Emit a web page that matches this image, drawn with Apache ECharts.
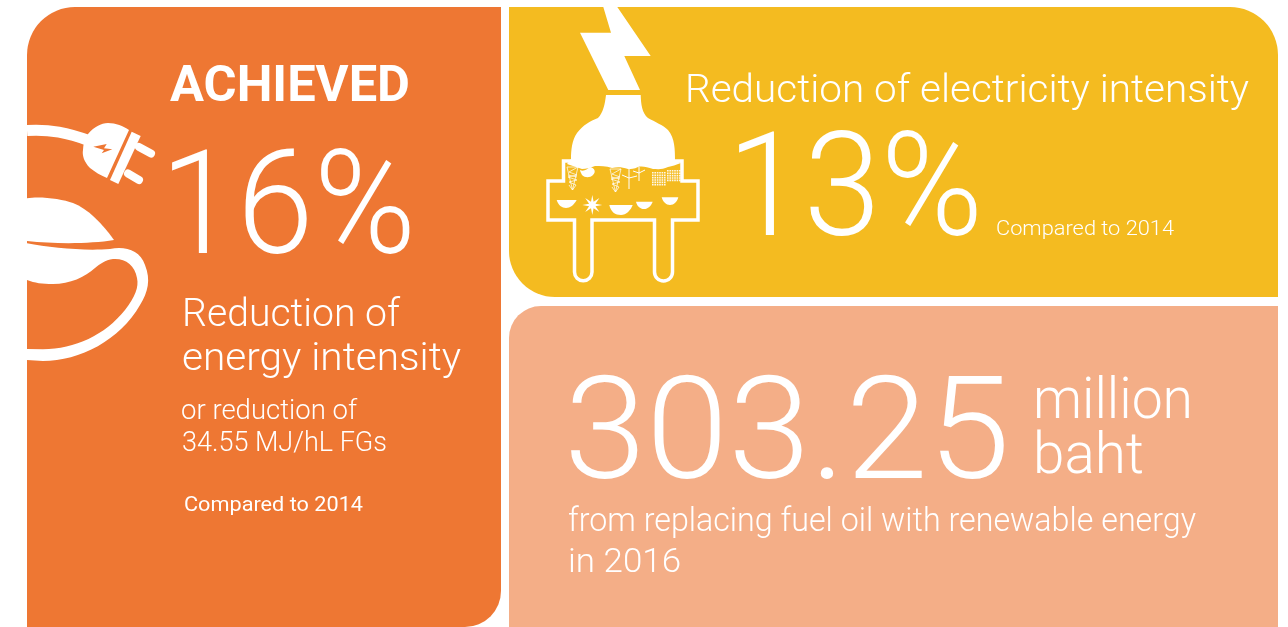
<!DOCTYPE html>
<html>
<head>
<meta charset="utf-8">
<title>Energy reduction</title>
<style>
  html, body { margin: 0; padding: 0; background: #fff; }
  #chart { width: 1288px; height: 627px; }
</style>
<script src="https://cdn.jsdelivr.net/npm/echarts@6/dist/echarts.min.js"></script>
</head>
<body>
<div id="chart"></div>
<script>
// text
const leftTexts = ['ACHIEVED', '16%', 'Reduction of', 'energy intensity', 'or reduction of', '34.55 MJ/hL FGs', 'Compared to 2014'];
const topRightTexts = ['Reduction of electricity intensity', '13%', 'Compared to 2014'];
const lowerRightTexts = ['303.25', 'million', 'baht', 'from replacing fuel oil with renewable energy', 'in 2016'];

const ORANGE = '#ee7733';
const YELLOW = '#f4bb20';
const PEACH = '#f4ae87';
const WHITE = '#ffffff';
const FONT = 'Roboto';

const measure = document.createElement('canvas').getContext('2d');

// text stretched to the width it has in the reference, y is the baseline
function label(text, x, y, size, width, weight) {
  const font = `${weight || 300} ${size}px ${FONT}`;
  measure.font = font;
  measure.textBaseline = 'middle';
  const m = measure.measureText(text);
  const toBaseline = measure.measureText('H').actualBoundingBoxDescent;
  return {
    type: 'text',
    x: x,
    y: y - toBaseline,
    scaleX: width / m.width,
    style: {
      text: text,
      x: 0,
      y: 0,
      font: font,
      fill: WHITE,
      align: 'left',
      verticalAlign: 'middle'
    }
  };
}

function fillPath(pathData, fill, opacity) {
  return {
    type: 'path',
    shape: { pathData: pathData },
    style: { fill: fill || WHITE, opacity: opacity || 1 }
  };
}

function strokePath(pathData, lineWidth, cap, opacity) {
  return {
    type: 'path',
    shape: { pathData: pathData },
    style: { fill: 'none', stroke: WHITE, lineWidth: lineWidth, lineCap: cap || 'butt', lineJoin: 'miter', opacity: opacity || 1 }
  };
}

function panel(x, y, w, h, r, fill) {
  return { type: 'rect', shape: { x: x, y: y, width: w, height: h, r: r }, style: { fill: fill } };
}

// left plug and cord
const plugIcon = [
  strokePath('M27 130.5 C50 129 68 133 90 141', 11),
  fillPath('M88 134 C94 127 101 123 108 123 C116 123 123 126 129 130 L107 178 C100 175 95 172 90 168 C84 162 82 155 83 150 C83 144 85 139 88 134 Z'),
  fillPath('M131.7 131.7 L140.7 136 L118.3 184 L110 180 Z'),
  strokePath('M139 147 L151 153.5', 8, 'round'),
  strokePath('M128 173.5 L139 180', 8, 'round'),
  fillPath('M93.3 146.7 L106.7 144 L104 148.3 L112.3 149.3 L101.7 153.3 L104 150 Z', ORANGE),
  fillPath('M27 198.3 C40 196 62 199 73 203 C88 209 102 223 114 240 C90 244 55 244 27 241 Z'),
  fillPath('M27 243.3 C50 248 85 251 110 249 C125 246 140 250 145 265 C151 280 148 292 140 305 C120 340 80 361 43 361 L27 360 L27 349 L43 349.3 C75 349 105 335 125 310 C135 297 139 287 137 278 C135 265 125 258 113 259 C105 260 100 264 95 268 C85 277 70 284 53 284 C42 284 35 283 27 280 Z')
];

// 8 pointed sun inside the yellow plug
function sunPath(cx, cy, outer, inner) {
  let d = '';
  for (let i = 0; i < 16; i++) {
    const r = i % 2 ? inner : outer;
    const a = i * Math.PI / 8;
    d += (i ? 'L' : 'M') + (cx + r * Math.sin(a)).toFixed(1) + ' ' + (cy - r * Math.cos(a)).toFixed(1) + ' ';
  }
  return d + 'Z';
}

// pylon drawn as a thin zigzag narrowing downwards
function towerPath(x, top) {
  return `M${x} ${top} L${x + 11} ${top} L${x + 2} ${top + 5} L${x + 10} ${top + 8} L${x + 1} ${top + 10}
    L${x + 10} ${top + 13} L${x + 2} ${top + 15} L${x + 9} ${top + 18} L${x + 5.5} ${top + 23} L${x + 2} ${top + 18}
    M${x + 1} ${top + 8} L${x + 10} ${top + 10} M${x} ${top} L${x + 5.5} ${top + 23} M${x + 11} ${top} L${x + 5.5} ${top + 23}`;
}

// small window grid for the city block
function windowsPath(x0, y0, cols, rows) {
  let d = '';
  for (let c = 0; c < cols; c++) {
    for (let r = 0; r < rows; r++) {
      const x = x0 + c * 2.4;
      const y = y0 + r * 2.4;
      d += `M${x} ${y} h1.6 v1.6 h-1.6 Z `;
    }
  }
  return d;
}

// yellow plug with the lightning bolt
const boltIcon = [
  fillPath('M603.3 7 L617.3 7 L650.7 56 L624.3 56 L640 90 L608.3 90 L580 32.7 L611 32.7 Z'),
  strokePath('M563.5 161 L563.5 181 L548 181 L548 220 L574.5 220 L574.5 272 A8.75 8.75 0 0 0 592 272 L592 220 L654.5 220 L654.5 272 A9 9 0 0 0 672.5 272 L672.5 220 L698 220 L698 181 L682 181 L682 161 Z', 3.5),
  fillPath('M606 95 L640.7 95 C641 104 642 113 648 118 C655 122 663 125 668 130 C675 138 675 150 675 161 L681 163 C676 165 672 166 668 167 C662 170 657 169 653 169 C647 167 642 166 638 167 C634 169 631 169 628 169 C622 167 617 167 612 168 C606 166 600 166 595 166 C590 168 586 169 582 169 C577 167 572 166 567 164 L571 159 C571 150 572 140 577 133 C583 125 590 121 598 118 C603 113 605 104 606 95 Z'),
  strokePath(towerPath(567, 167), 0.8, 'butt', 0.9),
  strokePath(towerPath(610, 169), 0.8, 'butt', 0.9),
  fillPath('M580 170 C584 172 587 169 590 167 C595 168 596 172 593 175 C590 178 585 178 582 175 C581 173 580 171 580 170 Z'),
  strokePath('M629 178 L629 189 M629 178 L622 175 M629 178 L637 176 M629 168 L629 178', 1),
  strokePath('M639 173 L639 181 M639 173 L633 171 M639 173 L645 170 M639 167 L639 173', 1),
  fillPath(windowsPath(652, 172, 6, 6), WHITE, 0.9),
  fillPath(windowsPath(667, 170, 6, 5), WHITE, 0.9),
  fillPath('M556.7 200 L576.7 200 C574 205 570 208 566 208 C562 208 558 205 556.7 200 Z'),
  fillPath('M609.3 205 L632.7 205 C631 210 626 215 621 215 C615 215 611 212 609.3 205 Z'),
  fillPath('M636 201.7 L652.7 201.7 C651 206 648 209 644 209 C640 209 637 206 636 201.7 Z'),
  fillPath('M661.7 197.3 L678.3 197.3 C677 202 674 205 670 205 C666 205 663 202 661.7 197.3 Z'),
  fillPath(sunPath(592.3, 205, 10, 3.5))
];

const chart = echarts.init(document.getElementById('chart'), null, { renderer: 'canvas' });

chart.setOption({
  animation: false,
  backgroundColor: WHITE,
  series: [{
    type: 'custom',
    coordinateSystem: 'none',
    silent: true,
    data: [[0]],
    renderItem: () => ({
      type: 'group',
      children: [
        panel(27, 7, 474, 620, [48, 0, 36, 0], ORANGE),
        panel(509, 7, 769, 290, [0, 48, 0, 46], YELLOW),
        panel(509, 306, 769, 321, [32, 0, 0, 0], PEACH),
        ...plugIcon,
        ...boltIcon,
        label(leftTexts[0], 170, 101, 50, 240, 700),
        label(leftTexts[1], 160, 254, 144, 256),
        label(leftTexts[2], 182, 326, 39, 218),
        label(leftTexts[3], 182, 370, 39, 279),
        label(leftTexts[4], 181, 419, 27, 176),
        label(leftTexts[5], 182, 451, 27, 205),
        label(leftTexts[6], 184, 511, 20, 179, 400),
        label(topRightTexts[0], 685, 102, 39, 564),
        label(topRightTexts[1], 727, 236, 144, 256),
        label(topRightTexts[2], 996, 235, 20, 178),
        label(lowerRightTexts[0], 564, 478, 143, 446),
        label(lowerRightTexts[1], 1033, 418, 58, 160),
        label(lowerRightTexts[2], 1033, 473, 58, 111),
        label(lowerRightTexts[3], 568, 531, 34, 628),
        label(lowerRightTexts[4], 568, 572, 34, 113)
      ]
    })
  }]
});
</script>
</body>
</html>
